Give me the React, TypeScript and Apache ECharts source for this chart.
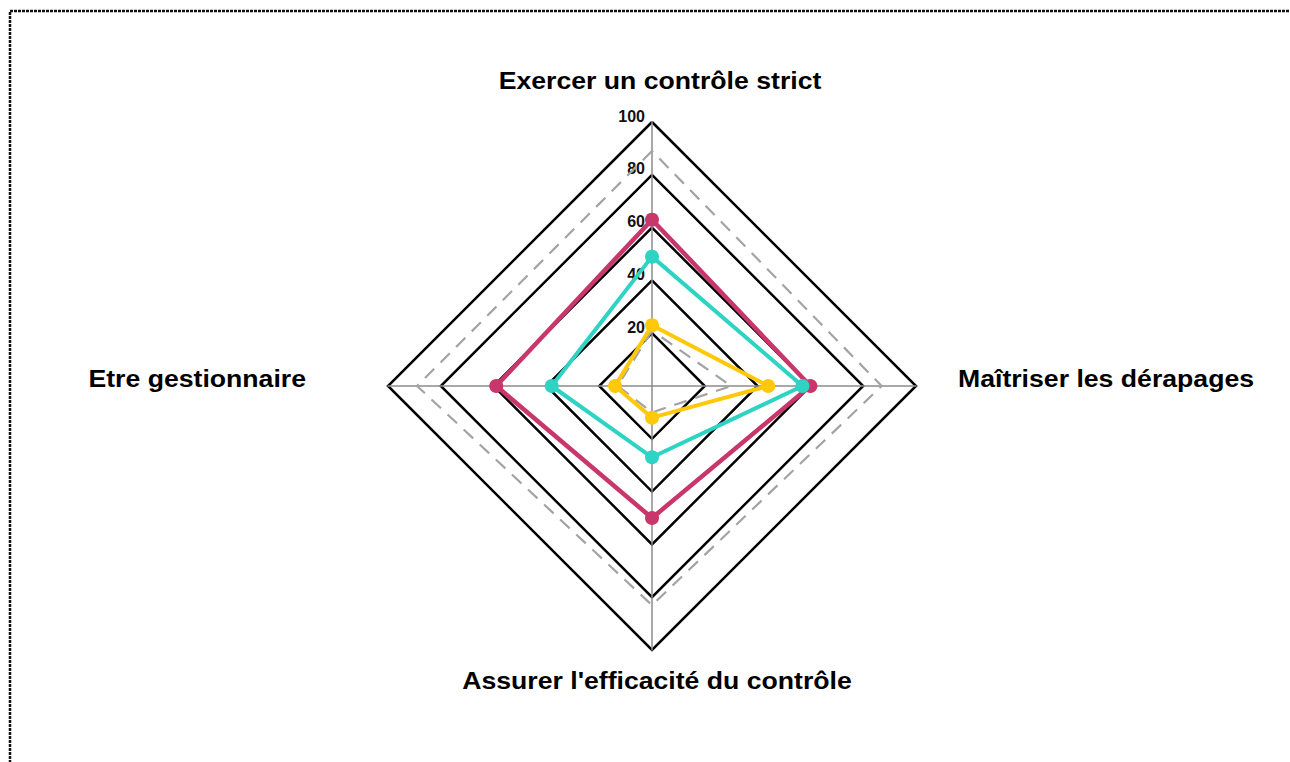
import React, { useEffect, useRef } from "react";
import * as echarts from "echarts";

const indicatorNames = [
  "Exercer un contrôle strict",
  "Etre gestionnaire",
  "Assurer l'efficacité du contrôle",
  "Maîtriser les dérapages",
];
const maxValues = [100, 100, 100, 100];
const seriesRed = [63, 59, 50, 60];
const seriesCyan = [49, 38, 27, 57];
const seriesYellow = [23, 14, 12, 44];
const refUpper = [89, 89, 83, 87];
const refLower = [21, 13, 10, 30];

const RED = "#C8366B";
const CYAN = "#2FD3C4";
const YELLOW = "#FFC90A";
const FONT = "'Liberation Sans', Arial, sans-serif";

export default function App() {
  const ref = useRef<HTMLDivElement>(null);
  useEffect(() => {
    document.body.style.margin = "0";
    const chart = echarts.init(ref.current!, null, { renderer: "svg" });
    const lineSeries = (name: string, data: number[], color: string, width: number) => ({
      name,
      value: data,
      symbol: "circle",
      symbolSize: 14,
      itemStyle: { color },
      lineStyle: { color, width, type: "solid" },
    });
    const dashed = (name: string, data: number[]) => ({
      name,
      value: data,
      symbol: "none",
      lineStyle: { color: "#A3A3A3", width: 2.2, type: [13, 9] },
      itemStyle: { color: "#A3A3A3" },
    });
    const nameText = (i: number, x: number, y: number, align: string) => ({
      type: "text",
      x,
      y,
      scaleX: 1.11,
      style: {
        text: indicatorNames[i],
        font: `bold 24px ${FONT}`,
        fill: "#000",
        align,
        verticalAlign: "middle",
      },
    });
    chart.setOption({
      animation: false,
      backgroundColor: "#fff",
      radar: {
        center: [652, 386],
        radius: 264,
        startAngle: 90,
        shape: "polygon",
        splitNumber: 5,
        indicator: indicatorNames.map((n, i) => ({
          name: n,
          max: maxValues[i],
          min: 0,
          axisLabel:
            i === 0
              ? {
                  show: true,
                  fontFamily: FONT,
                  fontWeight: "bold",
                  fontSize: 16,
                  color: "#111",
                  margin: 7,
                  verticalAlign: "bottom",
                  lineHeight: 12,
                  showMinLabel: false,
                  formatter: (v: number) => (v === 0 ? "" : String(v)),
                }
              : { show: false },
        })),
        axisName: { show: false },
        axisLine: { lineStyle: { color: "#8c8c8c", width: 1.5 } },
        splitLine: { lineStyle: { color: "#000", width: 2.5 } },
        splitArea: { show: false },
        axisTick: { show: false },
      },
      series: [
        {
          type: "radar",
          z: 2,
          data: [
            dashed("Max", refUpper),
            dashed("Min", refLower),
            lineSeries("Série 1", seriesRed, RED, 4.5),
            lineSeries("Série 2", seriesCyan, CYAN, 4),
            lineSeries("Série 3", seriesYellow, YELLOW, 4),
          ],
        },
      ],
      graphic: [
        {
          type: "rect",
          shape: { x: 10, y: 11, width: 1320, height: 800 },
          style: { fill: "none", stroke: "#111", lineWidth: 2.5, lineDash: [3, 1] },
          silent: true,
        },
        nameText(0, 660, 80, "center"),
        nameText(1, 306, 378, "right"),
        nameText(2, 657, 680, "center"),
        nameText(3, 958, 378, "left"),
      ],
    });
    return () => chart.dispose();
  }, []);
  return <div ref={ref} style={{ width: 1290, height: 762 }} />;
}
